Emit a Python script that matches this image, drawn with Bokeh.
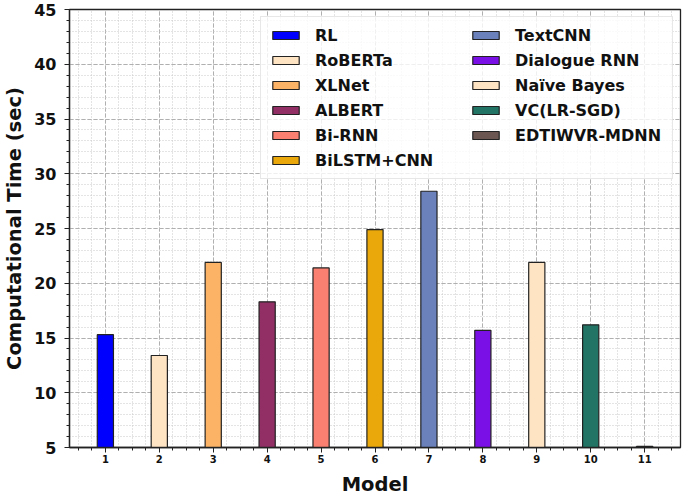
import numpy as np
from bokeh.plotting import figure
from bokeh.models import (ColumnDataSource, FixedTicker, SingleIntervalTicker,
                          Legend, LegendItem, Range1d)
from bokeh.embed import file_html
from bokeh.resources import INLINE

models = ["RL", "RoBERTa", "XLNet", "ALBERT", "Bi-RNN", "BiLSTM+CNN",
          "TextCNN", "Dialogue RNN", "Naïve Bayes", "VC(LR-SGD)", "EDTIWVR-MDNN"]
positions = [1, 2, 3, 4, 5, 6, 7, 8, 9, 10, 11]
times = [15.3, 13.4, 21.9, 18.3, 21.4, 24.9, 28.4, 15.7, 21.9, 16.2, 5.1]
colors = ["#0000FF", "#FFE4C4", "#FDB366", "#923066", "#FA8072", "#EAA80A",
          "#6A81BB", "#7B10E6", "#FFE4C4", "#227565", "#6B5652"]
x_ticks = [1, 2, 3, 4, 5, 6, 7, 8, 9, 10, 11]

FONT = "DejaVu Sans"

p = figure(width=685, height=498, output_backend="svg", toolbar_location=None,
           x_range=Range1d(0.335, 11.665), y_range=Range1d(5, 45),
           min_border_left=66, min_border_right=5, min_border_top=9,
           min_border_bottom=45)

p.outline_line_color = "#222222"
p.outline_line_width = 1.3
p.background_fill_color = "white"
p.border_fill_color = "white"

renderers = []
for i in range(len(models)):
    src = ColumnDataSource(dict(x=[positions[i]], top=[times[i]]))
    r = p.vbar(x="x", top="top", bottom=0, width=0.3, source=src,
               fill_color=colors[i], line_color="#222222", line_width=1.2)
    renderers.append(r)

items = [LegendItem(label=models[i], renderers=[renderers[i]]) for i in range(len(models))]
legend = Legend(items=items, location="top_right", nrows=6,
                label_text_font=FONT, label_text_font_style="bold",
                label_text_font_size="16px", label_text_color="#111111",
                glyph_width=33, glyph_height=10,
                label_standoff=13, label_height=20, label_width=149,
                spacing=5, padding=8,
                margin=7, border_line_color="#d0d0d0", border_line_width=1,
                background_fill_alpha=0.8)
p.add_layout(legend, "center")

# x axis
p.xaxis.ticker = FixedTicker(ticks=x_ticks, minor_ticks=list(np.arange(0.5, 11.75, 0.25)))
p.xaxis.axis_label = "Model"
p.xaxis.axis_label_text_font = FONT
p.xaxis.axis_label_text_font_style = "bold"
p.xaxis.axis_label_text_font_size = "19.5px"
p.xaxis.axis_label_standoff = 7
p.xaxis.major_label_text_font = FONT
p.xaxis.major_label_text_font_style = "bold"
p.xaxis.major_label_text_font_size = "10px"
p.xaxis.major_label_standoff = 2

# y axis
p.yaxis.ticker = SingleIntervalTicker(interval=5, num_minor_ticks=5)
p.yaxis.axis_label = "Computational Time (sec)"
p.yaxis.axis_label_text_font = FONT
p.yaxis.axis_label_text_font_style = "bold"
p.yaxis.axis_label_text_font_size = "19.5px"
p.yaxis.axis_label_standoff = 5
p.yaxis.major_label_text_font = FONT
p.yaxis.major_label_text_font_style = "bold"
p.yaxis.major_label_text_font_size = "16px"
p.yaxis.major_label_standoff = 8

for ax in (p.xaxis, p.yaxis):
    ax.axis_line_color = "#222222"
    ax.axis_line_width = 1.3
    ax.major_tick_line_color = "#222222"
    ax.minor_tick_line_color = "#222222"
    ax.major_tick_out = 5
    ax.major_tick_in = 0
    ax.minor_tick_out = 3
    ax.minor_tick_in = 0
    ax.major_label_text_color = "#111111"
    ax.axis_label_text_color = "#111111"

for g in (p.xgrid, p.ygrid):
    g.grid_line_color = "#b0b0b0"
    g.grid_line_dash = "4 2"
    g.grid_line_width = 1
    g.minor_grid_line_color = "#c8c8c8"
    g.minor_grid_line_dash = "1 2"
    g.minor_grid_line_width = 1

open("out.html", "w").write(file_html(p, INLINE))
